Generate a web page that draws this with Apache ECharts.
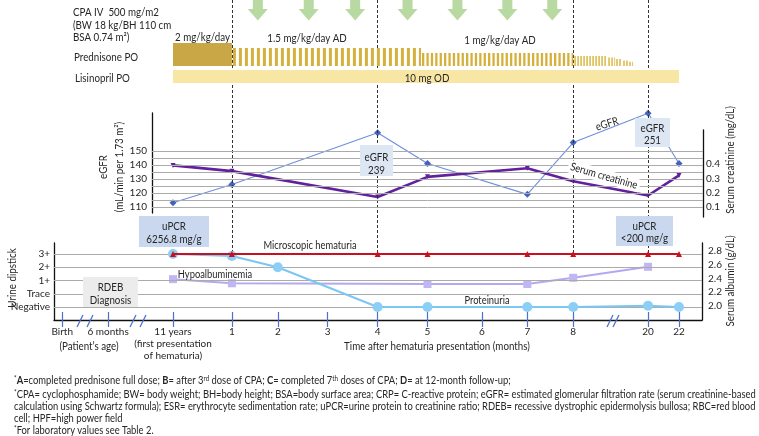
<!DOCTYPE html>
<html><head><meta charset="utf-8">
<script src="https://cdn.jsdelivr.net/npm/echarts@6/dist/echarts.min.js"></script>
<style>html,body{margin:0;padding:0;background:#fff}#c{width:759px;height:436px}</style>
</head><body><div id="c"></div>
<script>
// ---- time axis (broken axis): tick labels and their place on the display axis
const timeLabels = ['Birth','6 months','11 years','1','2','3','4','5','6','7','8','20','22'];
const timeAxisPos = [-2.32,-1.4,-0.1,1.08,2,3,4,5,6.09,7,7.92,9.42,10.04];
const timeLabelText = ['Birth','6 months','11 years\n(first presentation\nof hematuria)','1','2','3','4','5','6','7','8','20','22'];

// ---- events
const eventNames = ['A','B','C','D'];
const eventTimes = ['1','4','8','20'];
// CPA IV infusions (display-axis position)
const cpaDoseAt = [1.6,2.62,3.55,4.6,5.6,6.6,7.5];

// ---- prednisone PO regimen (display-axis start/end, dose mg/kg/day)
const predStart = [-0.1,1.08,4.87,7.92,8.6,8.76,8.9,9.02];
const predEnd   = [1.08,4.87,7.92,8.6,8.76,8.9,9.02,9.12];
const predDose  = [2,1.5,1,0.7,0.55,0.4,0.25,0.12];
const predPhase = ['full','AD','AD','taper','taper','taper','taper','taper'];
// ---- lisinopril PO 10 mg OD
const lisFrom = '11 years', lisTo = '22';

// ---- labs
const labTimes = ['11 years','1','4','5','7','8','20','22'];
const egfr  = [113,126,163,141,119,156,177,141];
const creat = [0.39,0.35,0.17,0.31,0.37,0.28,0.18,0.32];
const egfrTicks = [110,120,130,140,150];
const creatTicks = [0.1,0.2,0.3,0.4];

const dipLevels = ['Negative','Trace','1+','2+','3+'];
const protTimes = ['11 years','1','2','4','5','7','8','20','22'];
const proteinuria = [4,3.85,3,0,0,0,0,0.1,0];
const hemTimes = ['11 years','1','4','5','7','8','20','22'];
const hematuria = [4,4,4,4,4,4,4,4];
const albTimes = ['11 years','1','5','7','8','20'];
const albumin = [2.39,2.33,2.32,2.32,2.41,2.57];
const albTicks = [2.0,2.2,2.4,2.6,2.8];

// ---------------------------------------------------------------
const chart = echarts.init(document.getElementById('c'), null, {renderer:'canvas', width:759, height:436});
const X0 = 178, XS = 49.9, W = 759;
const pos = lab => timeAxisPos[timeLabels.indexOf(lab)];
const TXT = '#262626', FONT = 'Lato', SX = 0.85;

const grids = [
  {left:40, right:39, top:0, height:253},   // 0 overlay
  {left:40, right:39, top:43, height:23},   // 1 prednisone
  {left:40, right:39, top:70, height:13},   // 2 lisinopril
  {left:152, right:56, top:113, height:100},// 3 eGFR
  {left:152, right:56, top:130, height:87}, // 4 creatinine
  {left:54, right:57, top:243, height:77}   // 5 dipstick / albumin
];
const xr = g => ({min:(g.left - X0)/XS, max:(W - g.right - X0)/XS});

const xAxes = grids.map((g,i)=>Object.assign({type:'value', gridIndex:i, show:false}, xr(g)));
xAxes[5] = Object.assign({type:'value', gridIndex:5, show:true, position:'bottom',
  axisLine:{show:true, onZero:false, lineStyle:{color:'#111', width:1.3}},
  axisTick:{show:false}, splitLine:{show:false},
  axisLabel:{customValues: timeAxisPos, margin:6, fontSize:10, color:TXT, lineHeight:12, fontFamily:FONT,
    formatter: v => { const i = timeAxisPos.findIndex(p=>Math.abs(p-v)<1e-6); return i<0?'':timeLabelText[i]; }}
}, xr(grids[5]));
xAxes.push(Object.assign({type:'value', gridIndex:5, show:true, position:'bottom', offset:-8,
  axisLine:{show:false, onZero:false}, splitLine:{show:false}, axisLabel:{show:false},
  axisTick:{show:true, customValues: timeAxisPos, length:15, lineStyle:{color:'#4a6fd0', width:1.2}}
}, xr(grids[5])));

const axLab = (vals, fmt, margin) => ({customValues: vals, formatter: fmt, margin, fontSize:10, color:TXT, fontFamily:FONT});
const blackLine = {show:true, onZero:false, lineStyle:{color:'#111', width:1.3}};
const yAxes = [
  {type:'value', gridIndex:0, min:0, max:253, inverse:true, show:false},
  {type:'value', gridIndex:1, min:-0.3, max:2, show:false},
  {type:'value', gridIndex:2, min:0, max:1, show:false},
  {type:'value', gridIndex:3, min:105.7, max:177.1, position:'left', axisLine:blackLine, axisTick:{show:false}, splitLine:{show:false},
    axisLabel: axLab(egfrTicks, v=>String(v), 5)},
  {type:'value', gridIndex:4, min:0.03, max:0.637, position:'right', axisLine:blackLine, axisTick:{show:false}, splitLine:{show:false},
    axisLabel: axLab(creatTicks, v=>v.toFixed(1), 3)},
  {type:'value', gridIndex:5, min:-0.98, max:4.83, position:'left', axisLine:blackLine, axisTick:{show:false}, splitLine:{show:false},
    axisLabel: axLab([0,1,2,3,4], v=>dipLevels[Math.round(v)]||'', 4)},
  {type:'value', gridIndex:5, min:1.796, max:2.916, position:'right', axisLine:blackLine, axisTick:{show:false}, splitLine:{show:false},
    axisLabel: axLab(albTicks, v=>v.toFixed(1), 6)}
];

const PRED_BASE = -0.3;
function predItem(params, api){
  const i = params.dataIndex;
  const a = api.coord([api.value(0), api.value(2)]);
  const b = api.coord([api.value(1), PRED_BASE]);
  const x0 = a[0], x1 = b[0], y0 = a[1], h = b[1]-a[1];
  const ph = predPhase[i];
  if (ph === 'full') return {type:'rect', shape:{x:x0, y:y0, width:x1-x0, height:h}, style:{fill:'#c9a646'}};
  const dose = api.value(2);
  const period = ph==='taper' ? 3 : (dose>=1.5 ? 6 : 4.4);
  const on = ph==='taper' ? 1.8 : (dose>=1.5 ? 3 : 2.3);
  const color = ph==='taper' ? '#e0c463' : '#d5b03c';
  const children = [];
  for (let x = x0+1; x < x1-0.5; x += period)
    children.push({type:'rect', shape:{x:x, y:y0, width:Math.min(on, x1-x), height:h}, style:{fill:color}});
  return {type:'group', children};
}
function lisItem(params, api){
  const a = api.coord([api.value(0), 1]);
  const b = api.coord([api.value(1), 0]);
  return {type:'rect', shape:{x:a[0], y:a[1], width:b[0]-a[0], height:b[1]-a[1]}, style:{fill:'#f8e7a4'}};
}

const gridLineStyle = {color:'#ababab', width:1, type:'solid'};
const egfrLines = []; for (let v = egfrTicks[0]; v <= egfrTicks[egfrTicks.length-1]; v += 5) egfrLines.push(v);

const series = [
  {type:'line', xAxisIndex:0, yAxisIndex:0, data:eventTimes.map(t=>[pos(t),0]), symbol:'none', lineStyle:{opacity:0}, z:2, silent:true,
    markLine:{silent:true, symbol:'none', label:{show:false}, lineStyle:{color:'#333', type:[3,2], width:1},
      data:eventTimes.map(t=>({xAxis:pos(t)}))}},
  {type:'line', xAxisIndex:3, yAxisIndex:3, data:labTimes.map((t,i)=>[pos(t),egfr[i]]), symbol:'none', lineStyle:{opacity:0}, z:1, silent:true,
    markLine:{silent:true, symbol:'none', label:{show:false}, lineStyle:gridLineStyle, data:egfrLines.map(v=>({yAxis:v}))}},
  {type:'line', xAxisIndex:5, yAxisIndex:5, data:protTimes.map((t,i)=>[pos(t),proteinuria[i]]), symbol:'none', lineStyle:{opacity:0}, z:1, silent:true,
    markLine:{silent:true, symbol:'none', label:{show:false}, lineStyle:gridLineStyle, data:[0,1,2,3,4].map(v=>({yAxis:v}))}},
  {type:'custom', xAxisIndex:1, yAxisIndex:1, renderItem:predItem, z:6,
    data:predStart.map((s,i)=>[s, predEnd[i], predDose[i]])},
  {type:'custom', xAxisIndex:2, yAxisIndex:2, renderItem:lisItem, z:6, data:[[pos(lisFrom), pos(lisTo)]]},
  {type:'scatter', xAxisIndex:0, yAxisIndex:0, z:7, silent:true,
    symbol:'path://M5,0L15,0L15,9L20,9L10,20L0,9L5,9Z', symbolSize:[20,21],
    itemStyle:{color:'#a6d08b'}, data:cpaDoseAt.map(t=>[t,10])},
  {type:'scatter', xAxisIndex:0, yAxisIndex:0, z:8, silent:true, symbolSize:1, itemStyle:{opacity:0},
    data:eventTimes.map((t,i)=>({value:[pos(t),101], name:eventNames[i]})),
    label:{show:true, position:'inside', formatter:'{b}', color:TXT, fontSize:10.5, fontFamily:FONT, backgroundColor:'#fff', padding:[3,2]}},
  {type:'line', name:'eGFR', xAxisIndex:3, yAxisIndex:3, z:3, data:labTimes.map((t,i)=>[pos(t),egfr[i]]),
    lineStyle:{color:'#6e8fdc', width:1.1}, symbol:'diamond', symbolSize:7, itemStyle:{color:'#4262c2'}},
  {type:'line', name:'Serum creatinine', xAxisIndex:4, yAxisIndex:4, z:4, data:labTimes.map((t,i)=>[pos(t),creat[i]]),
    lineStyle:{color:'#62209d', width:2.6}, symbol:'triangle', symbolRotate:180, symbolSize:5, itemStyle:{color:'#62209d'}},
  {type:'line', name:'Hypoalbuminemia', xAxisIndex:5, yAxisIndex:6, z:4, data:albTimes.map((t,i)=>[pos(t),albumin[i]]),
    lineStyle:{color:'#b6a8ee', width:2}, symbol:'rect', symbolSize:8, itemStyle:{color:'#c2b6f2'}},
  {type:'line', name:'Proteinuria', xAxisIndex:5, yAxisIndex:5, z:5, data:protTimes.map((t,i)=>[pos(t),proteinuria[i]]),
    lineStyle:{color:'#7cc6f2', width:2}, symbol:'circle', symbolSize:10, itemStyle:{color:'#8ccff6'}},
  {type:'line', name:'Microscopic hematuria', xAxisIndex:5, yAxisIndex:5, z:6, data:hemTimes.map((t,i)=>[pos(t),hematuria[i]]),
    lineStyle:{color:'#c8101e', width:2}, symbol:'triangle', symbolSize:6, itemStyle:{color:'#c8101e'}}
];

// ---------- annotations
const T = (text, x, y, o={}) => Object.assign({type:'text', x, y, z:100, silent:true, scaleX:SX,
  style:Object.assign({text, fill:TXT, fontSize:11.5, fontFamily:FONT, align:'left', verticalAlign:'middle'}, o.style||{})},
  o.el||{});
const C = (text, x, y, st={}, el={}) => T(text, x, y, {style:Object.assign({align:'center'}, st), el});
const box = (x,y,w,h,fill) => ({type:'rect', z:99, silent:true, shape:{x,y,width:w,height:h}, style:{fill}});
const slash = (x,y) => ({type:'line', z:100, silent:true, shape:{x1:x, y1:y+12, x2:x+6, y2:y}, style:{stroke:'#4a6fd0', lineWidth:1.2}});

const graphic = [
  T('CPA IV  500 mg/m2', 73, 12), T('(BW 18 kg/BH 110 cm', 73, 25), T('BSA 0.74 m\u00b2)', 73, 37),
  T('2 mg/kg/day', 175, 37), C('1.5 mg/kg/day AD', 307, 38), C('1 mg/kg/day AD', 500, 40),
  T('Prednisone PO', 74, 57), T('Lisinopril PO', 75, 78), C('10 mg OD', 427, 78),
  C('eGFR', 103, 167, {}, {rotation:Math.PI/2}),
  C('(mL/min per 1.73 m\u00b2)', 119, 167, {}, {rotation:Math.PI/2}),
  C('Serum creatinine (mg/dL)', 730, 160, {}, {rotation:Math.PI/2}),
  C('Urine dipstick', 12, 278, {}, {rotation:Math.PI/2}),
  C('Serum albumin (g/dL)', 730, 281, {}, {rotation:Math.PI/2}),
  box(139,216,70,31,'#c9d8ee'), C('uPCR',174,226), C('6256.8 mg/g',174,239),
  box(360,145,33,31,'#dde7f4'), C('eGFR',376.5,157), C('239',376.5,170),
  box(635,118,35,29,'#dde7f4'), C('eGFR',652.5,128), C('251',652.5,140),
  box(616,216,57,30,'#c9d8ee'), C('uPCR',644.5,226), C('<200 mg/g',644.5,238),
  box(83,277,55,30,'#ececec'), C('RDEB',110.5,287), C('Diagnosis',110.5,300),
  C('eGFR', 607, 124, {fontSize:11}, {rotation:0.3}),
  C('Serum creatinine', 604, 176, {fontSize:11, backgroundColor:'#fff', padding:[1,3]}, {rotation:-0.28}),
  C('Microscopic hematuria', 310, 245, {fontSize:11}),
  C('Hypoalbuminemia', 215, 274, {fontSize:11}),
  C('Proteinuria', 487, 300, {fontSize:11}),
  C('(Patient\u2019s age)', 89, 346),
  C('Time after hematuria presentation (months)', 437, 346),
  slash(77,315), slash(87,315), slash(130,315), slash(140,315), slash(607,315), slash(613,315)
];

// footnotes (scaled horizontally to the reference's line length)
const fnFont = '10.5px Lato';
const line2 = '*CPA= cyclophosphamide; BW= body weight; BH=body height; BSA=body surface area; CRP= C-reactive protein; eGFR= estimated glomerular filtration rate (serum creatinine-based';
const cv = document.createElement('canvas').getContext('2d'); cv.font = fnFont;
const fs = 743 / cv.measureText(line2).width;
const rich = {b:{fontWeight:'bold', fontSize:10.5, fontFamily:FONT, fill:TXT}, s:{fontSize:7, fontFamily:FONT, fill:TXT, verticalAlign:'top', lineHeight:10}};
const FN = (text, y) => ({type:'text', x:14, y, z:100, silent:true, scaleX:fs,
  style:{text, fill:TXT, fontSize:10.5, fontFamily:FONT, verticalAlign:'middle', rich}});
graphic.push(
  FN('{s|*}{b|A}=completed prednisone full dose; {b|B}= after 3{s|rd} dose of CPA; {b|C}= completed 7{s|th} doses of CPA; {b|D}= at 12-month follow-up;', 381),
  FN('{s|*}CPA= cyclophosphamide; BW= body weight; BH=body height; BSA=body surface area; CRP= C-reactive protein; eGFR= estimated glomerular filtration rate (serum creatinine-based', 395),
  FN('calculation using Schwartz formula); ESR= erythrocyte sedimentation rate; uPCR=urine protein to creatinine ratio; RDEB= recessive dystrophic epidermolysis bullosa; RBC=red blood', 407),
  FN('cell; HPF=high power field', 419),
  FN('{s|*}For laboratory values see Table 2.', 431)
);

chart.setOption({
  animation:false,
  textStyle:{fontFamily:FONT},
  grid:grids, xAxis:xAxes, yAxis:yAxes, series, graphic
});
</script></body></html>
